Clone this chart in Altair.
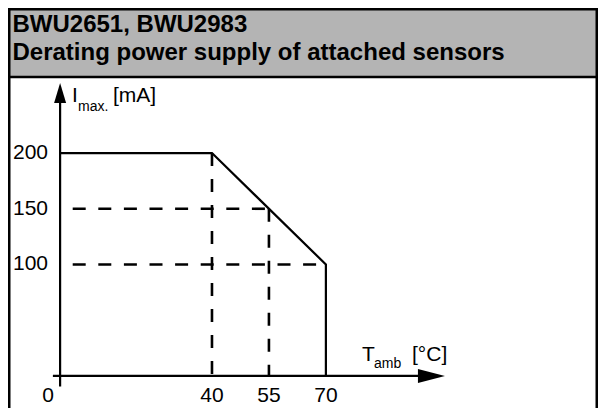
import altair as alt
import pandas as pd

# ---------------- data ----------------
header_lines = ["BWU2651, BWU2983", "Derating power supply of attached sensors"]

curve_t = [0, 40, 70, 70]          # T_amb [°C]
curve_i = [200, 200, 100, 0]       # I_max [mA]

drop_t = [40, 55]                  # vertical dashed guides (from value down to axis)
drop_i = [200, 150]

level_i = [150, 100]               # horizontal dashed guides (from axis to curve)
level_t = [55, 70]

tick_t = [0, 40, 55, 70]
tick_t_labels = ["0", "40", "55", "70"]
tick_i = [100, 150, 200]
tick_i_labels = ["100", "150", "200"]

# axis arrow extents (data units)
xaxis_t = [-1.9, 94.5]
yaxis_i = [-9.5, 245]
xarrow_t = 97.8
yarrow_i = 253.9

# ---------------- layout ----------------
W, H = 590, 400
X0, XS = 52.1, 3.797     # svg x of T=0, px per °C
Y0, YS = 367.9, 1.1143   # svg y of I=0, px per mA
xs = alt.Scale(domain=[-X0 / XS, (W - X0) / XS], nice=False, zero=False)
ys = alt.Scale(domain=[(Y0 - H) / YS, Y0 / YS], nice=False, zero=False)

FONT = "Liberation Sans"
one = pd.DataFrame({"a": [0]})


def X(f):
    return alt.X(f, type="quantitative", scale=xs, axis=None)


def Y(f):
    return alt.Y(f, type="quantitative", scale=ys, axis=None)


def label(txt, x, y, size, weight="normal", align="left"):
    return alt.Chart(pd.DataFrame({"txt": [txt]})).mark_text(
        align=align, baseline="alphabetic", font=FONT, fontSize=size,
        fontWeight=weight, color="black"
    ).encode(x=alt.value(x), y=alt.value(y), text="txt:N")


frame = alt.Chart(one).mark_rect(fill="white", stroke="black", strokeWidth=2.5).encode(
    x=alt.value(1.25), x2=alt.value(W - 1.25), y=alt.value(1.25), y2=alt.value(H + 30)
)
header = alt.Chart(one).mark_rect(fill="#b4b4b4", stroke="black", strokeWidth=2.5).encode(
    x=alt.value(1.25), x2=alt.value(W - 1.25), y=alt.value(1.25), y2=alt.value(69)
)
h1 = label(header_lines[0], 4.5, 23.5, 24, "bold")
h2 = label(header_lines[1], 4.5, 51.5, 24, "bold")

curve_df = pd.DataFrame({"t": curve_t, "i": curve_i, "k": list(range(len(curve_t)))})
curve = alt.Chart(curve_df).mark_line(color="black", strokeWidth=2.2, strokeJoin="miter").encode(
    x=X("t"), y=Y("i"), order="k:O"
)

drop_df = pd.DataFrame({"t": drop_t, "i": drop_i, "i0": [0] * len(drop_t)})
drops = alt.Chart(drop_df).mark_rule(color="black", strokeWidth=2.6, strokeDash=[13, 13]).encode(
    x=X("t"), y=Y("i"), y2="i0"
)

level_df = pd.DataFrame({"t": level_t, "i": level_i, "t0": [0] * len(level_t)})
levels = alt.Chart(level_df).mark_rule(
    color="black", strokeWidth=2.6, strokeDash=[13, 12.6], strokeDashOffset=13
).encode(x=X("t0"), x2="t", y=Y("i"))

xaxis_df = pd.DataFrame({"t0": [xaxis_t[0]], "t1": [xaxis_t[1]], "i": [0]})
xaxis = alt.Chart(xaxis_df).mark_rule(color="black", strokeWidth=2.2).encode(
    x=X("t0"), x2="t1", y=Y("i")
)
yaxis_df = pd.DataFrame({"t": [0], "i0": [yaxis_i[0]], "i1": [yaxis_i[1]]})
yaxis = alt.Chart(yaxis_df).mark_rule(color="black", strokeWidth=2.2).encode(
    x=X("t"), y=Y("i0"), y2="i1"
)

xarrow = alt.Chart(pd.DataFrame({"t": [xarrow_t], "i": [0]})).mark_point(
    shape="M 1 0 L -1 -0.52 L -1 0.52 Z", size=729, filled=True, color="black", opacity=1, strokeWidth=0
).encode(x=X("t"), y=Y("i"))
yarrow = alt.Chart(pd.DataFrame({"t": [0], "i": [yarrow_i]})).mark_point(
    shape="M 0 -1 L 0.6 1 L -0.6 1 Z", size=400, filled=True, color="black", opacity=1, strokeWidth=0
).encode(x=X("t"), y=Y("i"))

ylab_df = pd.DataFrame({"i": tick_i, "lab": tick_i_labels})
ylabels = alt.Chart(ylab_df).mark_text(
    align="right", baseline="middle", font=FONT, fontSize=21, color="black"
).encode(x=alt.value(40), y=Y("i"), text="lab:N")

xlab_df = pd.DataFrame({"t": tick_t[1:], "lab": tick_t_labels[1:]})
xlabels = alt.Chart(xlab_df).mark_text(
    align="center", baseline="middle", font=FONT, fontSize=21, color="black"
).encode(x=X("t"), y=alt.value(388), text="lab:N")
origin_df = pd.DataFrame({"t": tick_t[:1], "lab": tick_t_labels[:1]})
origin = alt.Chart(origin_df).mark_text(
    align="center", baseline="middle", font=FONT, fontSize=21, color="black", dx=-12
).encode(x=X("t"), y=alt.value(388), text="lab:N")

yt1 = label("I", 64, 94, 21)
yt2 = label("max.", 70, 103, 14)
yt3 = label("[mA]", 105, 94, 21)
xt1 = label("T", 354, 353, 21)
xt2 = label("amb", 366, 360, 14)
xt3 = label("[°C]", 404, 353, 21)

chart = alt.layer(
    frame, header, h1, h2,
    drops, levels, curve, xaxis, yaxis, xarrow, yarrow,
    ylabels, xlabels, origin,
    yt1, yt2, yt3, xt1, xt2, xt3,
).properties(
    width=W, height=H, padding=0, autosize=alt.AutoSizeParams(type="none")
).configure_view(strokeWidth=0).configure(background="white")

chart.save("out.html", embed_options={"renderer": "svg", "actions": False})
